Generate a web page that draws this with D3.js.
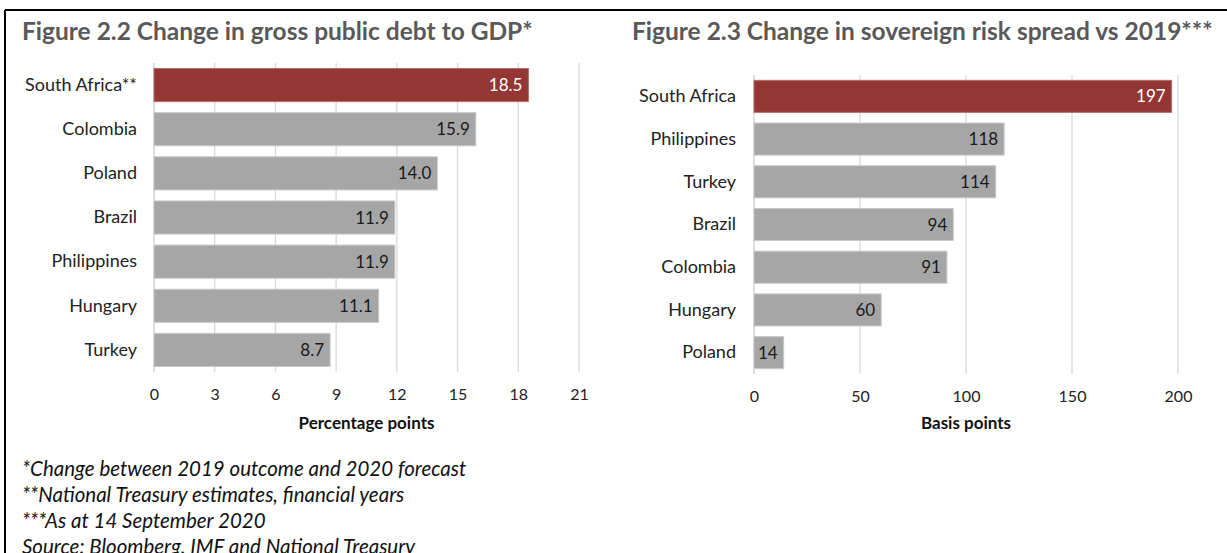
<!DOCTYPE html>
<html>
<head>
<meta charset="utf-8">
<script src="https://cdn.jsdelivr.net/npm/d3@7"></script>
<style>
  body { margin: 0; background: #fff; }
  svg { display: block; font-family: Lato, "Open Sans", sans-serif; }
  .tick text { fill: #222; }
</style>
</head>
<body>
<script>
const W = 1227, H = 553

// Figure 2.2 data
const debtCountries = ["South Africa**", "Colombia", "Poland", "Brazil", "Philippines", "Hungary", "Turkey"]
const debtValues = [18.5, 15.9, 14.0, 11.9, 11.9, 11.1, 8.7]
const debtTicks = [0, 3, 6, 9, 12, 15, 18, 21]

// Figure 2.3 data
const spreadCountries = ["South Africa", "Philippines", "Turkey", "Brazil", "Colombia", "Hungary", "Poland"]
const spreadValues = [197, 118, 114, 94, 91, 60, 14]
const spreadTicks = [0, 50, 100, 150, 200]

const notes = [
    "*Change between 2019 outcome and 2020 forecast",
    "**National Treasury estimates, financial years",
    "***As at 14 September 2020",
    "Source: Bloomberg, IMF and National Treasury"
]

const red = "#943634", grey = "#a6a6a6"

const svg = d3.select("body").append("svg")
    .attr("width", W)
    .attr("height", H)

// frame lines
svg.append("line").attr("x1", 5).attr("x2", W).attr("y1", 10).attr("y2", 10)
    .attr("stroke", "#000").attr("stroke-width", 2)
svg.append("line").attr("x1", 5).attr("x2", 5).attr("y1", 10).attr("y2", H)
    .attr("stroke", "#000").attr("stroke-width", 2)

function drawChart(opts) {
    const x = d3.scaleLinear().domain(opts.domain).range([opts.left, opts.right])
    const y = d3.scaleBand().domain(opts.cats).range([opts.top, opts.bottom]).paddingInner(0.25).paddingOuter(0.125)

    svg.append("text")
        .attr("x", opts.titleX).attr("y", 40)
        .attr("font-size", 24.5).attr("font-weight", "bold").attr("fill", "#595959")
        .text(opts.title)

    // gridlines
    svg.append("g").selectAll("line")
        .data(opts.ticks.slice(1))
        .enter().append("line")
        .attr("x1", d => x(d)).attr("x2", d => x(d))
        .attr("y1", opts.top).attr("y2", opts.bottom)
        .attr("stroke", "#d9d9d9").attr("stroke-width", 1.3)

    svg.append("line")
        .attr("x1", x(0)).attr("x2", x(0)).attr("y1", opts.top).attr("y2", opts.bottom)
        .attr("stroke", "#bfbfbf").attr("stroke-width", 1)

    svg.append("g").selectAll("rect")
        .data(opts.values)
        .enter().append("rect")
        .attr("x", x(0))
        .attr("y", (d, i) => y(opts.cats[i]))
        .attr("width", d => x(d) - x(0))
        .attr("height", y.bandwidth())
        .attr("fill", (d, i) => i == 0 ? red : grey)
        .attr("stroke", (d, i) => i == 0 ? "#b86d6b" : "#c8c8c8")
        .attr("stroke-width", 1)

    // value labels
    svg.append("g").selectAll("text")
        .data(opts.values)
        .enter().append("text")
        .attr("x", d => x(d) - 6)
        .attr("y", (d, i) => y(opts.cats[i]) + y.bandwidth() / 2)
        .attr("dy", "0.36em")
        .attr("text-anchor", "end")
        .attr("font-size", 17)
        .attr("fill", (d, i) => i == 0 ? "#fff" : "#1a1a1a")
        .text(d => opts.fmt(d))

    // category axis
    const yAxis = d3.axisLeft(y).tickSize(0).tickPadding(opts.left - opts.labelX)
    svg.append("g")
        .attr("transform", `translate(${opts.left},0)`)
        .call(yAxis)
        .call(g => g.select(".domain").remove())
        .selectAll("text").attr("font-size", 18).attr("font-family", "Lato, sans-serif")

    const xAxis = d3.axisBottom(x).tickValues(opts.ticks).tickSize(0).tickPadding(17)
    svg.append("g")
        .attr("transform", `translate(0,${opts.bottom})`)
        .call(xAxis)
        .call(g => g.select(".domain").remove())
        .selectAll("text").attr("font-size", 16).attr("font-family", "Lato, sans-serif")

    svg.append("text")
        .attr("x", (opts.left + opts.right) / 2).attr("y", 429)
        .attr("text-anchor", "middle")
        .attr("font-size", 17).attr("font-weight", "bold").attr("fill", "#111")
        .text(opts.axisTitle)
}

drawChart({
    title: "Figure 2.2 Change in gross public debt to GDP*",
    titleX: 22,
    cats: debtCountries, values: debtValues, ticks: debtTicks,
    domain: [0, 21], left: 154, right: 579, top: 63, bottom: 372,
    labelX: 137, fmt: d3.format(".1f"), axisTitle: "Percentage points"
})

drawChart({
    title: "Figure 2.3 Change in sovereign risk spread vs 2019***",
    titleX: 632,
    cats: spreadCountries, values: spreadValues, ticks: spreadTicks,
    domain: [0, 200], left: 754, right: 1178, top: 75, bottom: 374,
    labelX: 736, fmt: d3.format("d"), axisTitle: "Basis points"
})

svg.append("g").selectAll("text")
    .data(notes)
    .enter().append("text")
    .attr("x", 22)
    .attr("y", (d, i) => 476 + i * 26)
    .attr("font-size", 20.5).attr("font-style", "italic").attr("fill", "#111")
    .text(d => d)
</script>
</body>
</html>
